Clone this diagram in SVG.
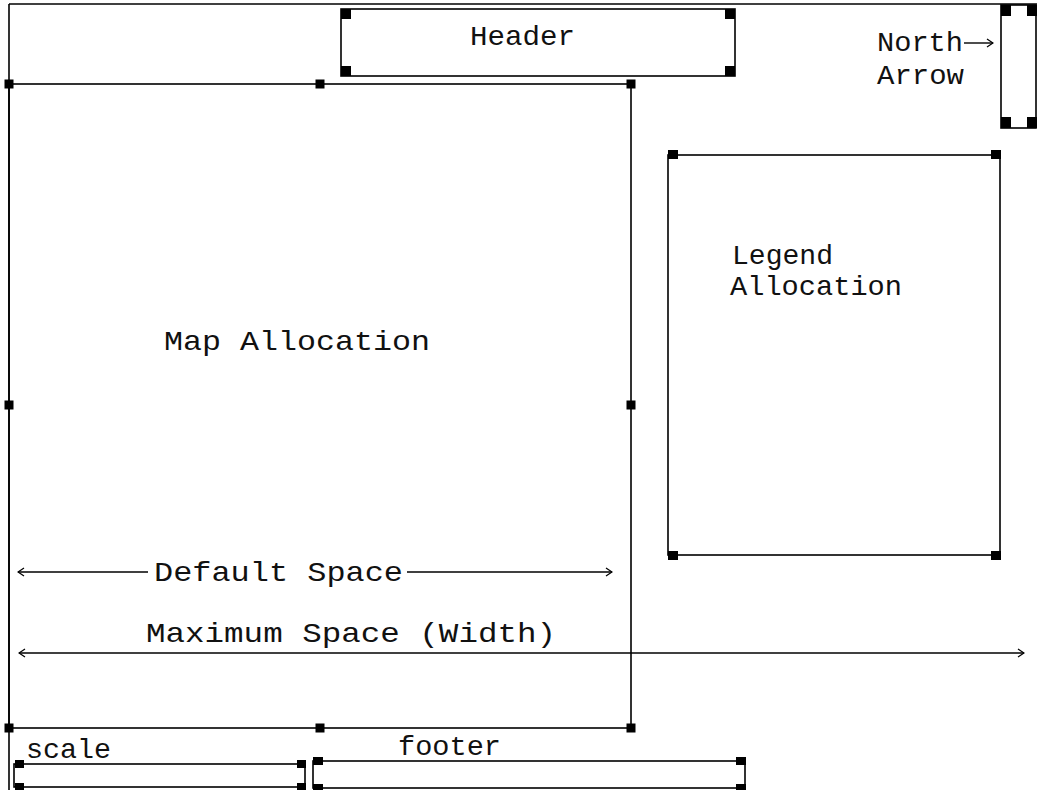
<svg xmlns="http://www.w3.org/2000/svg" width="1037" height="790" viewBox="0 0 1037 790">
<style>
.box{fill:none;stroke:#000;stroke-width:1.6}
.h{fill:#000}
.t{font-family:"Liberation Mono","Courier New",monospace;font-size:28px;fill:#111}
.ln{stroke:#000;stroke-width:1.4;fill:none}
</style>
<defs>
<marker id="ah" viewBox="0 0 10 10" refX="9" refY="5" markerWidth="10" markerHeight="10" markerUnits="userSpaceOnUse" orient="auto-start-reverse">
<path d="M3,1 L9,5 L3,9" fill="none" stroke="#000" stroke-width="1.3"/>
</marker>
</defs>
<rect width="1037" height="790" fill="#fff"/>
<g id="frame">
<line class="box" x1="9" y1="4" x2="1037" y2="4"/>
<line class="box" x1="9" y1="4" x2="9" y2="790"/>
</g>
<g id="header">
<rect class="box" x="341" y="9" width="394" height="67"/>
<rect class="h" x="341" y="9" width="10" height="10"/>
<rect class="h" x="725" y="9" width="10" height="10"/>
<rect class="h" x="341" y="66" width="10" height="10"/>
<rect class="h" x="725" y="66" width="10" height="10"/>
<text class="t" x="470" y="45" textLength="105" lengthAdjust="spacingAndGlyphs">Header</text>
</g>
<g id="north-arrow">
<rect class="box" x="1001" y="5" width="35" height="123"/>
<rect class="h" x="1001" y="5" width="10" height="11"/>
<rect class="h" x="1027" y="5" width="10" height="11"/>
<rect class="h" x="1001" y="117" width="10" height="11"/>
<rect class="h" x="1027" y="117" width="10" height="11"/>
<text class="t" x="877" y="51" textLength="86" lengthAdjust="spacingAndGlyphs">North</text>
<text class="t" x="877" y="84" textLength="87" lengthAdjust="spacingAndGlyphs">Arrow</text>
</g>
<g id="map">
<rect class="box" x="9" y="84" width="622" height="644"/>
<rect class="h" x="4.5" y="79.5" width="9" height="9"/>
<rect class="h" x="315.5" y="79.5" width="9" height="9"/>
<rect class="h" x="626.5" y="79.5" width="9" height="9"/>
<rect class="h" x="4.5" y="400.5" width="9" height="9"/>
<rect class="h" x="626.5" y="400.5" width="9" height="9"/>
<rect class="h" x="4.5" y="723.5" width="9" height="9"/>
<rect class="h" x="315.5" y="723.5" width="9" height="9"/>
<rect class="h" x="626.5" y="723.5" width="9" height="9"/>
<text class="t" x="164" y="350" textLength="266" lengthAdjust="spacingAndGlyphs">Map Allocation</text>
<text class="t" x="154" y="581" textLength="249" lengthAdjust="spacingAndGlyphs">Default Space</text>
<text class="t" x="146" y="642" textLength="410" lengthAdjust="spacingAndGlyphs">Maximum Space (Width)</text>
</g>
<g id="legend">
<rect class="box" x="668" y="155" width="332" height="400"/>
<rect class="h" x="668" y="150" width="10" height="9"/>
<rect class="h" x="991" y="150" width="10" height="9"/>
<rect class="h" x="668" y="551" width="10" height="9"/>
<rect class="h" x="991" y="551" width="10" height="9"/>
<text class="t" x="732" y="264" textLength="101" lengthAdjust="spacingAndGlyphs">Legend</text>
<text class="t" x="730" y="295" textLength="172" lengthAdjust="spacingAndGlyphs">Allocation</text>
</g>
<g id="scale">
<rect class="box" x="14" y="764" width="291" height="23"/>
<rect class="h" x="15" y="760" width="9" height="8"/>
<rect class="h" x="297" y="760" width="9" height="8"/>
<rect class="h" x="15" y="783" width="9" height="8"/>
<rect class="h" x="297" y="783" width="9" height="8"/>
<text class="t" x="26" y="758" textLength="85" lengthAdjust="spacingAndGlyphs">scale</text>
</g>
<g id="footer">
<rect class="box" x="313" y="761" width="432" height="27"/>
<rect class="h" x="313" y="757" width="10" height="8"/>
<rect class="h" x="736" y="757" width="10" height="8"/>
<rect class="h" x="313" y="784" width="10" height="8"/>
<rect class="h" x="736" y="784" width="10" height="8"/>
<text class="t" x="398" y="755" textLength="103" lengthAdjust="spacingAndGlyphs">footer</text>
</g>
<g id="connectors">
<line class="ln" x1="964" y1="43" x2="993" y2="43" marker-end="url(#ah)"/>
<line class="ln" x1="148" y1="572" x2="18" y2="572" marker-end="url(#ah)"/>
<line class="ln" x1="407" y1="572" x2="612" y2="572" marker-end="url(#ah)"/>
<line class="ln" x1="19" y1="653" x2="1024" y2="653" marker-start="url(#ah)" marker-end="url(#ah)"/>
</g>
</svg>
